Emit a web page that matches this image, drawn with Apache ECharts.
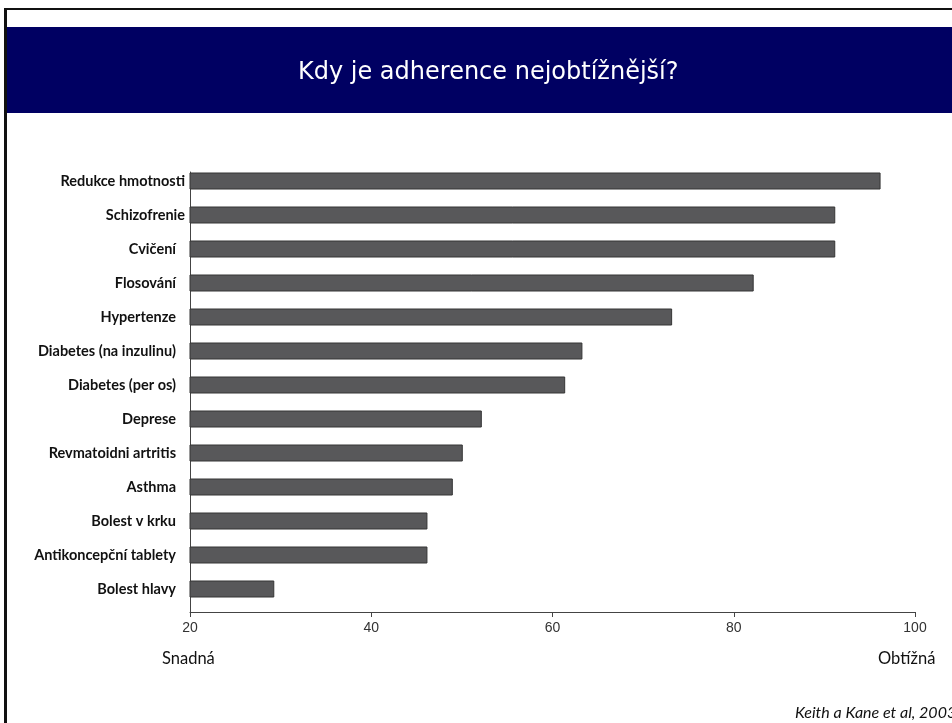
<!DOCTYPE html>
<html>
<head>
<meta charset="utf-8">
<title>Kdy je adherence nejobtížnější?</title>
<script src="https://cdn.jsdelivr.net/npm/echarts@6/dist/echarts.min.js"></script>
<style>
  html, body { margin: 0; padding: 0; background: #ffffff; }
  #chart { width: 952px; height: 723px; }
</style>
</head>
<body>
<div id="chart"></div>
<script>
// Conditions, top to bottom (a trailing space keeps the source's extra gap before the axis)
const categories = [
  'Redukce hmotnosti',
  'Schizofrenie',
  'Cvičení ',
  'Flosování ',
  'Hypertenze ',
  'Diabetes (na inzulinu) ',
  'Diabetes (per os) ',
  'Deprese ',
  'Revmatoidni artritis ',
  'Asthma ',
  'Bolest v krku ',
  'Antikoncepční tablety ',
  'Bolest hlavy '
];

// Difficulty of adherence (20 = easy, 100 = hard)
const difficulty = [96.2, 91.2, 91.2, 82.2, 73.2, 63.3, 61.4, 52.2, 50.1, 49.0, 46.2, 46.2, 29.3];

// Axis ticks
const tickValues = [20, 40, 60, 80, 100];

const titleText = 'Kdy je adherence nejobtížnější?';
const easyLabel = 'Snadná';
const hardLabel = 'Obtížná';
const sourceText = 'Keith a Kane et al, 2003';

const labelFont = {
  color: '#111111',
  fontFamily: 'Lato',
  fontWeight: 'bold',
  fontSize: 14.5
};

const chart = echarts.init(document.getElementById('chart'), null, { renderer: 'canvas' });

const option = {
  backgroundColor: '#ffffff',
  animation: false,
  title: {
    text: titleText,
    left: 293,
    top: 56,
    textStyle: {
      color: '#ffffff',
      fontFamily: 'DejaVu Sans',
      fontWeight: 'normal',
      fontSize: 24
    }
  },
  graphic: [
    // slide frame
    { type: 'rect', z: 1, shape: { x: 4, y: 8, width: 948, height: 2 }, style: { fill: '#111111' } },
    { type: 'rect', z: 1, shape: { x: 4, y: 8, width: 3, height: 715 }, style: { fill: '#111111' } },
    // header band
    { type: 'rect', z: 0, shape: { x: 7, y: 27, width: 945, height: 86 }, style: { fill: '#000062' } },
    // scale ends
    { type: 'text', left: 162, top: 650, style: { text: easyLabel, font: '16.5px Lato', fill: '#111111' } },
    { type: 'text', left: 878, top: 650, style: { text: hardLabel, font: '16.5px Lato', fill: '#111111' } },
    // source
    { type: 'text', left: 795, top: 705, style: { text: sourceText, font: 'italic 16px Lato', fill: '#111111' } }
  ],
  grid: [
    { left: 190, width: 725, top: 164, height: 442, containLabel: false },
    { left: 190, width: 725, top: 172, height: 440, containLabel: false }
  ],
  xAxis: [
    {
      type: 'value',
      gridIndex: 0,
      min: tickValues[0],
      max: tickValues[tickValues.length - 1],
      interval: 20,
      offset: 6,
      axisLine: { show: true, lineStyle: { color: '#444444', width: 1 } },
      axisTick: { show: true, length: 5, lineStyle: { color: '#444444' } },
      axisLabel: {
        show: true,
        margin: 9,
        color: '#333333',
        fontFamily: 'Liberation Sans',
        fontSize: 14
      },
      splitLine: { show: false }
    },
    {
      type: 'value',
      gridIndex: 1,
      show: false
    }
  ],
  yAxis: [
    {
      type: 'category',
      gridIndex: 0,
      inverse: true,
      data: categories,
      axisLine: { show: false },
      axisTick: { show: false },
      axisLabel: {
        margin: 5,
        ...labelFont,
        formatter: function (name) {
          return name.endsWith(' ')
            ? '{pad|' + name.trim() + '}'
            : '{plain|' + name + '}';
        },
        rich: {
          plain: { ...labelFont },
          pad: { ...labelFont, padding: [0, 9, 0, 0] }
        }
      }
    },
    {
      // left edge line of the plot
      type: 'value',
      gridIndex: 1,
      min: 0,
      max: 1,
      axisLine: { show: true, lineStyle: { color: '#444444', width: 1 } },
      axisTick: { show: false },
      axisLabel: { show: false },
      splitLine: { show: false }
    }
  ],
  series: [
    {
      type: 'bar',
      xAxisIndex: 0,
      yAxisIndex: 0,
      data: difficulty,
      barWidth: 17,
      itemStyle: {
        color: '#58585a',
        borderColor: '#353535',
        borderWidth: 1
      }
    }
  ]
};

chart.setOption(option);
</script>
</body>
</html>
